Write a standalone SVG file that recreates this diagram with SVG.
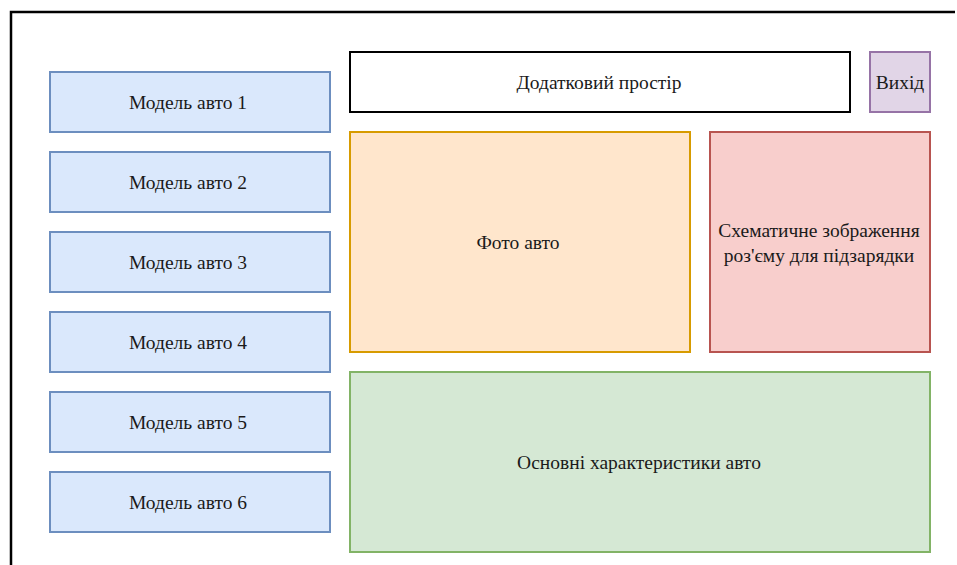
<svg xmlns="http://www.w3.org/2000/svg" width="957" height="565" viewBox="0 0 957 565">
  <style>
    text { font-family: "Liberation Serif", "Times New Roman", serif; font-size: 19.5px; fill: #1a1a1a; text-anchor: middle; dominant-baseline: central; }
    .model rect { fill: #dae8fc; stroke: #6c8ebf; stroke-width: 2; }
    .plain rect { fill: #ffffff; stroke: #000000; stroke-width: 2; }
    .exit rect { fill: #e1d5e7; stroke: #9673a6; stroke-width: 2; }
    .photo rect { fill: #ffe6cc; stroke: #d79b00; stroke-width: 2; }
    .scheme rect { fill: #f8cecc; stroke: #b85450; stroke-width: 2; }
    .specs rect { fill: #d5e8d4; stroke: #82b366; stroke-width: 2; }
  </style>
  <rect width="957" height="565" fill="#ffffff"/>

  <!-- page frame -->
  <path d="M11 565 V12 H955" fill="none" stroke="#000000" stroke-width="2.5"/>

  <!-- model list -->
  <g id="model1" class="model"><rect x="50" y="72" width="280" height="60"/><text x="188" y="102">Модель авто 1</text></g>
  <g id="model2" class="model"><rect x="50" y="152" width="280" height="60"/><text x="188" y="182">Модель авто 2</text></g>
  <g id="model3" class="model"><rect x="50" y="232" width="280" height="60"/><text x="188" y="262">Модель авто 3</text></g>
  <g id="model4" class="model"><rect x="50" y="312" width="280" height="60"/><text x="188" y="342">Модель авто 4</text></g>
  <g id="model5" class="model"><rect x="50" y="392" width="280" height="60"/><text x="188" y="422">Модель авто 5</text></g>
  <g id="model6" class="model"><rect x="50" y="472" width="280" height="60"/><text x="188" y="502">Модель авто 6</text></g>

  <!-- top bar -->
  <g id="extra" class="plain"><rect x="350" y="52" width="500" height="60"/><text x="599" y="82">Додатковий простір</text></g>
  <g id="exit" class="exit"><rect x="870" y="52" width="60" height="60"/><text x="900" y="82">Вихід</text></g>

  <!-- content area -->
  <g id="photo" class="photo"><rect x="350" y="132" width="340" height="220"/><text x="518" y="242">Фото авто</text></g>
  <g id="scheme" class="scheme"><rect x="710" y="132" width="220" height="220"/><text x="819" y="230">Схематичне зображення</text><text x="819" y="255">роз'єму для підзарядки</text></g>
  <g id="specs" class="specs"><rect x="350" y="372" width="580" height="180"/><text x="639" y="462">Основні характеристики авто</text></g>

  <g id="connectors"/>
</svg>
